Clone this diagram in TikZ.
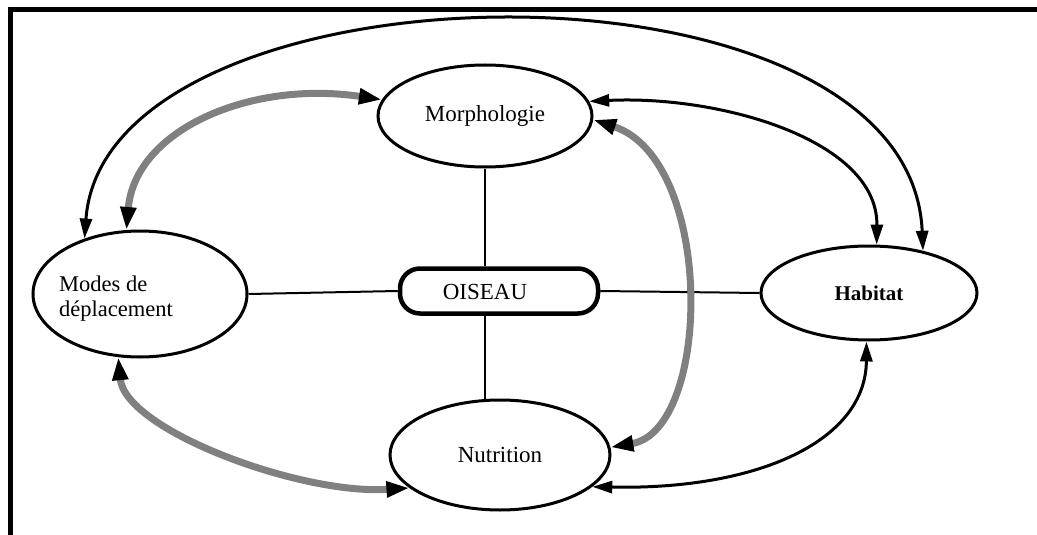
\documentclass[tikz,border=0pt]{standalone}
\usepackage{fontspec}
\setmainfont{Liberation Serif}
\usetikzlibrary{shapes.geometric,arrows.meta}
\begin{document}
\begin{tikzpicture}[x=1pt,y=-1pt,
  bubble/.style={ellipse,draw,line width=3pt,inner sep=0pt},
  lbl/.style={font=\fontsize{23}{25}\selectfont},
  link/.style={line width=2pt},
  blk/.style={line width=3pt,
    {Triangle[length=20pt,width=12pt]}-{Triangle[length=20pt,width=12pt]}},
  gry/.style={line width=7pt,draw=black!50,
    {Triangle[length=23pt,width=15pt,color=black]}-{Triangle[length=23pt,width=15pt,color=black]}}]
\useasboundingbox (0,0) rectangle (1037,535);
% frame
\draw[line width=5pt] (10,535) -- (10,9.5) -- (1037,9.5);
% nodes
\node[bubble,lbl,minimum width=214pt,minimum height=102pt] (M) at (485,116) {Morphologie};
\node[bubble,minimum width=214pt,minimum height=126pt] (D) at (140,294) {};
\node[lbl,anchor=west,align=left,font=\fontsize{22.5}{25}\selectfont,inner sep=0pt] (Dt) at (59,299) {Modes de\\déplacement};
\node[bubble,lbl,font=\fontsize{21}{25}\selectfont\bfseries,minimum width=216pt,minimum height=94pt] (H) at (869,293) {Habitat};
\node[bubble,lbl,minimum width=220pt,minimum height=110pt] (N) at (500,455) {Nutrition};
\node[draw,rectangle,rounded corners=20pt,line width=4.5pt,minimum width=198pt,minimum height=45pt] (O) at (499,291) {};
\node[lbl,inner sep=0pt] (Ot) at (485,292) {OISEAU};
% straight links
\draw[link] (M.south) -- (M.south |- O.north);
\draw[link] (M.south |- O.south) -- (M.south |- N.north);
\draw[link] (D.east) -- (O.west);
\draw[link] (O.east) -- (H.west);
% black arrows
\draw[blk] (D.135.6) .. controls (105,-45) and (910,-60) .. (H.38);
\draw[blk] (M.8) .. controls (720,95) and (878,140) .. (H.81);
\draw[blk] (H.267) .. controls (866,440) and (760,490) .. (N.-19);
% gray arrows
\draw[gry] (D.102) .. controls (135,130) and (250,80) .. (M.171);
\draw[gry] (M.-2) .. controls (715,160) and (712,430) .. (N.4);
\draw[gry] (D.251) .. controls (125,430) and (300,495) .. (N.200);
\end{tikzpicture}
\end{document}
